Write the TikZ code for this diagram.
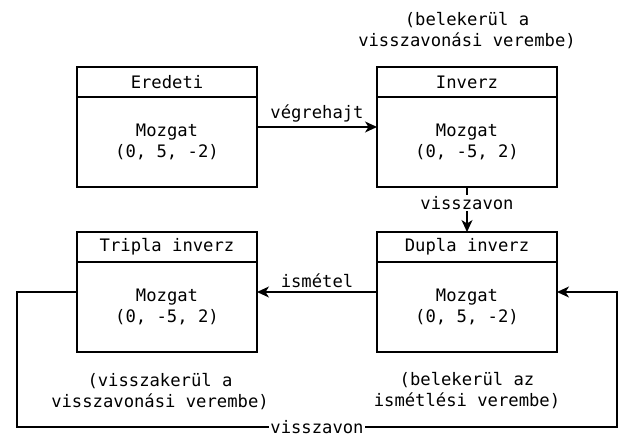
\documentclass[tikz,border=0pt]{standalone}
\usepackage{fontspec}
\setmonofont{DejaVu Sans Mono}
\usetikzlibrary{arrows.meta,calc}
\begin{document}
\begin{tikzpicture}[x=1pt,y=-1pt,
  font=\fontsize{17.2}{21}\selectfont\ttfamily,
  line width=1.3pt,
  box/.style={draw=black,fill=white,minimum width=180pt,minimum height=120pt,inner sep=0pt,outer sep=0pt},
  txt/.style={align=center,inner sep=0pt},
  lbl/.style={fill=white,inner sep=1.5pt},
  arr/.style={-{Stealth[length=12pt,width=11pt,inset=3.5pt]}}
]
\useasboundingbox (0,0) rectangle (636,446);
% boxes
\foreach \n/\x/\y in {ered/167/127, inv/467/127, trip/167/292, dup/467/292}{
  \node[box] (\n) at (\x,\y) {};
  \draw ([yshift=-30pt]\n.north west) -- ([yshift=-30pt]\n.north east);
}
\node[txt] (eredt) at ([yshift=-15pt]ered.north) {Eredeti};
\node[txt] (eredb) at ([yshift=-15pt]ered.center) {Mozgat\\(0, 5, -2)};
\node[txt] (invt) at ([yshift=-15pt]inv.north) {Inverz};
\node[txt] (invb) at ([yshift=-15pt]inv.center) {Mozgat\\(0, -5, 2)};
\node[txt] (tript) at ([yshift=-15pt]trip.north) {Tripla inverz};
\node[txt] (tripb) at ([yshift=-15pt]trip.center) {Mozgat\\(0, -5, 2)};
\node[txt] (dupt) at ([yshift=-15pt]dup.north) {Dupla inverz};
\node[txt] (dupb) at ([yshift=-15pt]dup.center) {Mozgat\\(0, 5, -2)};
% annotations
\node[txt] (ann1) at (467,31) {(belekerül a\\visszavonási verembe)};
\node[txt] (ann2) at (160,392) {(visszakerül a\\visszavonási verembe)};
\node[txt] (ann3) at (467,391) {(belekerül az\\ismétlési verembe)};
% connectors
\draw[arr] (ered.east) -- node[above=3pt,inner sep=1pt]{végrehajt} (inv.west);
\draw[arr] (inv.south) -- node[lbl,pos=0.36]{visszavon} (dup.north);
\draw[arr] (dup.west) -- node[above=3pt,inner sep=1pt]{ismétel} (trip.east);
\coordinate (c1) at (17,292);
\coordinate (c2) at (17,427);
\coordinate (c3) at (617,427);
\coordinate (c4) at (617,292);
\draw[arr] (trip.west) -- (c1) -- (c2) -- node[lbl,inner sep=1pt]{visszavon} (c3) -- (c4) -- (dup.east);
\end{tikzpicture}
\end{document}
